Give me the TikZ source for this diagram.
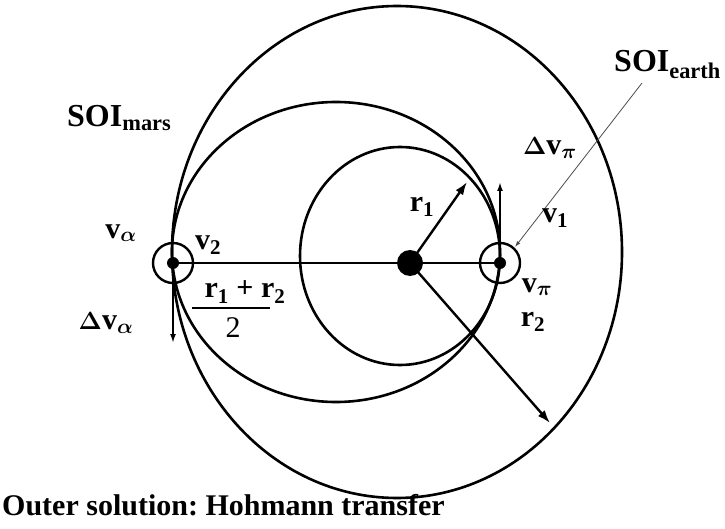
\documentclass[tikz,border=0pt]{standalone}
\usepackage{fontspec}
\setmainfont{Liberation Serif}
\usepackage{amsmath}
\usetikzlibrary{arrows.meta}
\frenchspacing

\begin{document}
\begin{tikzpicture}[>={Latex[length=13pt,width=9pt]}, x=1pt, y=-1pt,
  orbit/.style={line width=2.6pt},
  lbl/.style={font=\fontsize{30}{34}\selectfont\bfseries, inner sep=0pt},
  soi/.style={font=\fontsize{32}{36}\selectfont\bfseries, inner sep=0pt, anchor=base west}]
  \useasboundingbox (0,0) rectangle (725,529);
  % Sun, earth and mars
  \coordinate (sun) at (410,263);
  \coordinate (earth) at (500,263);
  \coordinate (mars) at (173,263);
  % Earth orbit, transfer orbit, outer orbit
  \draw[orbit] (400,256) ellipse [x radius=100, y radius=109];
  \draw[orbit] (336,252) ellipse [x radius=164, y radius=150];
  \draw[orbit] (397,252) ellipse [x radius=225, y radius=246];
  % Apse line
  \draw[line width=1.8pt] (mars) -- (earth);
  \fill (sun) circle (13);
  % Planets with their SOI
  \fill (earth) circle (6);
  \draw[line width=2.4pt] (earth) circle (20);
  \fill (mars) circle (6);
  \draw[line width=2.4pt] (mars) circle (20);
  % Radii
  \coordinate (r1tip) at (467,182);
  \coordinate (r2tip) at (550,423);
  \draw[->, line width=2.4pt] (sun) -- (r1tip);
  \draw[->, line width=2.4pt] (sun) -- (r2tip);
  % Velocity changes
  \coordinate (dvpi) at (500,182);
  \coordinate (dvalpha) at (173,343);
  \draw[-{Latex[length=9pt,width=6pt]}, line width=1.8pt] (earth) -- (dvpi);
  \draw[-{Latex[length=9pt,width=6pt]}, line width=1.8pt] (mars) -- (dvalpha);
  % SOI earth pointer
  \coordinate (soitail) at (642,83);
  \coordinate (soihead) at (515,247);
  \draw[-{Latex[length=6pt,width=4pt]}, line width=0.8pt, gray!60!black] (soitail) -- (soihead);
  % Labels
  \node[soi] (soimars) at (67,127) {SOI\textsubscript{mars}};
  \node[soi] (soiearth) at (614,72) {SOI\textsubscript{earth}};
  \node[lbl] (lvalpha) at (121,233) {v$_{\boldsymbol{\alpha}}$};
  \node[lbl] (lv2) at (208,245) {v\textsubscript{2}};
  \node[lbl] (ldvalpha) at (106,323) {$\boldsymbol{\Delta}$v$_{\boldsymbol{\alpha}}$};
  \node[lbl] (ldvpi) at (550,148) {$\boldsymbol{\Delta}$v$_{\boldsymbol{\pi}}$};
  \node[lbl] (lv1) at (555,218) {v\textsubscript{1}};
  \node[lbl] (lvpi) at (537,287) {v$_{\boldsymbol{\pi}}$};
  \node[lbl] (lr2) at (533,322) {r\textsubscript{2}};
  \node[lbl] (lr1) at (422,207) {r\textsubscript{1}};
  % Semi-major axis of the transfer
  \node[lbl] (num) at (245,292) {r\textsubscript{1} + r\textsubscript{2}};
  \node[font=\fontsize{30}{34}\selectfont, inner sep=0pt] (den) at (233,328) {2};
  \draw[line width=1.2pt] (192,308) -- (270,308);
  % Caption
  \node[font=\fontsize{30}{34}\selectfont\bfseries, inner sep=0pt, anchor=base west] (caption) at (2,515) {Outer solution: Hohmann transfer};
\end{tikzpicture}
\end{document}
